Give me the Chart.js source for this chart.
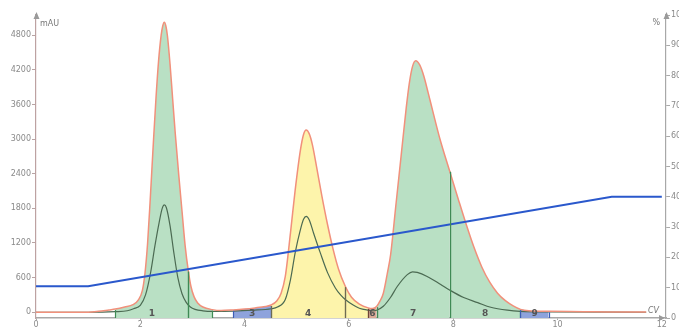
<!DOCTYPE html>
<html>
<head>
<meta charset="utf-8">
<script src="https://cdn.jsdelivr.net/npm/chart.js@4.4.0/dist/chart.umd.min.js"></script>
<style>
  html, body { margin: 0; padding: 0; background: #ffffff; }
  #wrap { width: 679px; height: 329px; }
</style>
</head>
<body>
<div id="wrap"><canvas id="chart" width="679" height="329"></canvas></div>
<script>
// UV absorbance trace (ml, mAU)
const uvX = [0, 0.5, 1.0, 1.2, 1.4, 1.52, 1.7, 1.86, 1.96, 2.04, 2.09, 2.14, 2.19, 2.25, 2.30, 2.35, 2.40, 2.43,
  2.46, 2.49, 2.52, 2.57, 2.62, 2.67, 2.74, 2.80, 2.86, 2.92, 2.97, 3.03, 3.10, 3.20, 3.38, 3.55, 3.78, 4.0, 4.2,
  4.4, 4.51, 4.62, 4.70, 4.78, 4.88, 4.97, 5.07, 5.13, 5.18, 5.24, 5.30, 5.38, 5.48, 5.59, 5.70, 5.80, 5.93, 6.05,
  6.20, 6.37, 6.45, 6.53, 6.60, 6.66, 6.74, 6.80, 6.90, 7.0, 7.10, 7.16, 7.22, 7.28, 7.36, 7.44, 7.52, 7.62, 7.74,
  7.93, 8.10, 8.25, 8.40, 8.55, 8.70, 8.85, 9.0, 9.15, 9.29, 9.45, 9.83, 10.5, 11.0, 11.7];
const uvY = [0, 0, 0, 15, 40, 55, 90, 130, 210, 380, 680, 1200, 1950, 2930, 3700, 4350, 4800, 4960,
  5025, 4960, 4790, 4300, 3700, 3100, 2350, 1750, 1150, 720, 450, 270, 160, 90, 45, 30, 40, 55, 75,
  100, 125, 200, 330, 620, 1380, 2120, 2810, 3080, 3157, 3090, 2900, 2520, 2020, 1520, 1080, 750, 450, 260,
  140, 75, 65, 100, 200, 330, 690, 1000, 1850, 2700, 3550, 3980, 4260, 4356, 4280, 4080, 3800, 3440, 3020,
  2450, 1950, 1520, 1120, 780, 520, 330, 200, 110, 50, 25, 15, 10, 5, 5];

// Second absorbance trace (ml, mAU)
const uv2X = [0, 1.0, 1.52, 1.75, 1.87, 2.0, 2.1, 2.2, 2.28, 2.36, 2.42, 2.46, 2.50, 2.57, 2.64, 2.72, 2.80,
  2.88, 2.96, 3.05, 3.2, 3.38, 3.78, 4.15, 4.51, 4.63, 4.78, 4.88, 4.97, 5.07, 5.13, 5.18, 5.24, 5.32, 5.45,
  5.59, 5.74, 5.84, 5.93, 6.09, 6.20, 6.37, 6.45, 6.53, 6.66, 6.80, 6.93, 7.12, 7.22, 7.31, 7.5, 7.76, 7.93,
  8.2, 8.47, 8.72, 9.04, 9.29, 9.83, 11.7];
const uv2Y = [0, 0, 10, 25, 60, 120, 300, 700, 1150, 1550, 1800, 1860, 1810, 1500, 1050, 600, 320,
  170, 90, 50, 25, 15, 20, 35, 60, 90, 220, 565, 1032, 1430, 1610, 1660, 1600, 1378, 1032,
  686, 420, 300, 220, 120, 70, 35, 25, 35, 104, 260, 450, 652, 700, 690, 620, 480, 385,
  254, 166, 86, 35, 15, 5, 0];

// Gradient (%B)
const gradX = [0, 1.0, 11.04, 12];
const gradY = [10.5, 10.5, 40, 40];

// Fractions (ml)
const fracStart  = [1.52, 2.92, 3.78, 4.51, 5.93, 6.37, 6.53, 7.93, 9.29];
const fracEnd    = [2.92, 3.38, 4.51, 5.93, 6.37, 6.53, 7.93, 9.29, 9.83];
const fracLabels = ['1', '', '3', '4', '', '6', '7', '8', '9'];

// Axis ticks
const xTicks   = [0, 2, 4, 6, 8, 10, 12];
const uvTicks  = [0, 600, 1200, 1800, 2400, 3000, 3600, 4200, 4800];
const pctTicks = [0, 10, 20, 30, 40, 50, 60, 70, 80, 90, 100];

// Fraction colours
const GREEN  = { fill: '#b9e0c4', edge: '#3f8a55' };
const BLUE   = { fill: '#8ea3dc', edge: '#3d5db4' };
const YELLOW = { fill: '#fdf4ab', edge: '#6e6c52' };
const BROWN  = { fill: '#dba996', edge: '#6e4436' };
const fracStyle = [GREEN, GREEN, BLUE, YELLOW, YELLOW, BROWN, GREEN, GREEN, BLUE];

const FONT = 'DejaVu Sans';
const TICK_COLOR = '#8a8a8a';

const pts = (xs, ys) => xs.map((v, i) => ({ x: v, y: ys[i] }));

const fractionSets = fracStart.map((s, i) => ({
  label: 'F' + (i + 1),
  data: pts(uvX, uvY).filter(p => p.x >= s && p.x <= fracEnd[i]),
  yAxisID: 'y',
  borderWidth: 0,
  borderColor: 'rgba(0,0,0,0)',
  backgroundColor: fracStyle[i].fill,
  fill: 'start',
  pointRadius: 0,
  cubicInterpolationMode: 'monotone',
  order: 10
}));

const decor = {
  id: 'decor',
  afterDatasetsDraw(chart) {
    const { ctx, chartArea: a, scales } = chart;
    const x = scales.x, y = scales.y;
    ctx.save();
    // fraction boundaries, from the axis up to the UV trace
    fracStart.forEach((s, i) => {
      [s, fracEnd[i]].forEach(v => {
        const k = uvX.indexOf(v);
        const px = Math.round(x.getPixelForValue(v)) + 0.5;
        ctx.strokeStyle = fracStyle[i].edge;
        ctx.lineWidth = 1.2;
        ctx.beginPath();
        ctx.moveTo(px, a.bottom);
        ctx.lineTo(px, y.getPixelForValue(uvY[k]) + 1);
        ctx.stroke();
      });
    });
    // fraction numbers
    ctx.font = 'bold 9px ' + FONT;
    ctx.fillStyle = '#555';
    ctx.textAlign = 'center';
    ctx.textBaseline = 'middle';
    fracLabels.forEach((t, i) => {
      if (!t) return;
      const cx = x.getPixelForValue((fracStart[i] + fracEnd[i]) / 2);
      ctx.fillText(t, cx, y.getPixelForValue(0) + 1);
    });
    // axis arrows
    ctx.fillStyle = '#9a9a9a';
    const tri = (p) => { ctx.beginPath(); ctx.moveTo(p[0], p[1]); ctx.lineTo(p[2], p[3]); ctx.lineTo(p[4], p[5]); ctx.closePath(); ctx.fill(); };
    tri([a.left - 2.5, a.top + 4, a.left + 0.5, a.top - 3, a.left + 3.5, a.top + 4]);
    tri([a.right - 2.5, a.top + 4, a.right + 0.5, a.top - 3, a.right + 3.5, a.top + 4]);
    tri([a.right - 7, a.bottom - 3, a.right - 1, a.bottom, a.right - 7, a.bottom + 3]);
    // axis units
    ctx.font = '8px ' + FONT;
    ctx.fillStyle = '#777';
    ctx.textBaseline = 'middle';
    ctx.textAlign = 'left';
    ctx.fillText('mAU', a.left + 4, a.top + 9);
    ctx.textAlign = 'right';
    ctx.fillText('%', a.right - 6, a.top + 8);
    ctx.font = 'italic 8px ' + FONT;
    ctx.fillText('CV', a.right - 7, y.getPixelForValue(0) - 1);
    ctx.restore();
  }
};

const plainTick = v => String(v);

new Chart(document.getElementById('chart'), {
  type: 'line',
  data: {
    datasets: [
      {
        label: '%B',
        data: pts(gradX, gradY),
        yAxisID: 'y2',
        borderColor: '#2a58cc',
        borderWidth: 2,
        pointRadius: 0,
        fill: false,
        order: 0
      },
      {
        label: 'UV',
        data: pts(uvX, uvY),
        yAxisID: 'y',
        borderColor: '#f1907b',
        borderWidth: 1.5,
        pointRadius: 0,
        fill: false,
        cubicInterpolationMode: 'monotone',
        order: 1
      },
      {
        label: 'UV 2',
        data: pts(uv2X, uv2Y),
        yAxisID: 'y',
        borderColor: '#4b6a52',
        borderWidth: 1.2,
        pointRadius: 0,
        fill: false,
        cubicInterpolationMode: 'monotone',
        order: 2
      },
      ...fractionSets
    ]
  },
  options: {
    responsive: false,
    animation: false,
    devicePixelRatio: 1,
    layout: { padding: { top: 15, left: 0, right: 0, bottom: 0 } },
    plugins: { legend: { display: false }, tooltip: { enabled: false }, title: { display: false } },
    scales: {
      x: {
        type: 'linear',
        min: 0,
        max: 12.08,
        afterBuildTicks: s => { s.ticks = xTicks.map(v => ({ value: v })); },
        afterFit: s => { s.height = 11; },
        grid: { drawOnChartArea: false, drawTicks: true, tickLength: 2, color: '#aaa' },
        border: { display: true, color: '#a8a8a8', width: 1.5 },
        ticks: { color: TICK_COLOR, font: { family: FONT, size: 8 }, padding: 0, maxRotation: 0, autoSkip: false, callback: plainTick }
      },
      y: {
        type: 'linear',
        position: 'left',
        min: -100,
        max: 5150,
        afterBuildTicks: s => { s.ticks = uvTicks.map(v => ({ value: v })); },
        afterFit: s => { s.width = 36; },
        grid: { drawOnChartArea: false, drawTicks: true, tickLength: 4, color: '#b8a4a4' },
        border: { display: true, color: '#bda2a2', width: 1.2 },
        ticks: { color: TICK_COLOR, font: { family: FONT, size: 8 }, padding: 1, autoSkip: false, callback: plainTick }
      },
      y2: {
        type: 'linear',
        position: 'right',
        min: 0,
        max: 100,
        afterBuildTicks: s => { s.ticks = pctTicks.map(v => ({ value: v })); },
        afterFit: s => { s.width = 13; },
        grid: { drawOnChartArea: false, drawTicks: true, tickLength: 4, color: '#aaa' },
        border: { display: true, color: '#a8a8a8', width: 1.2 },
        ticks: { color: TICK_COLOR, font: { family: FONT, size: 8 }, padding: 1, autoSkip: false, callback: plainTick }
      }
    }
  },
  plugins: [decor]
});
</script>
</body>
</html>
